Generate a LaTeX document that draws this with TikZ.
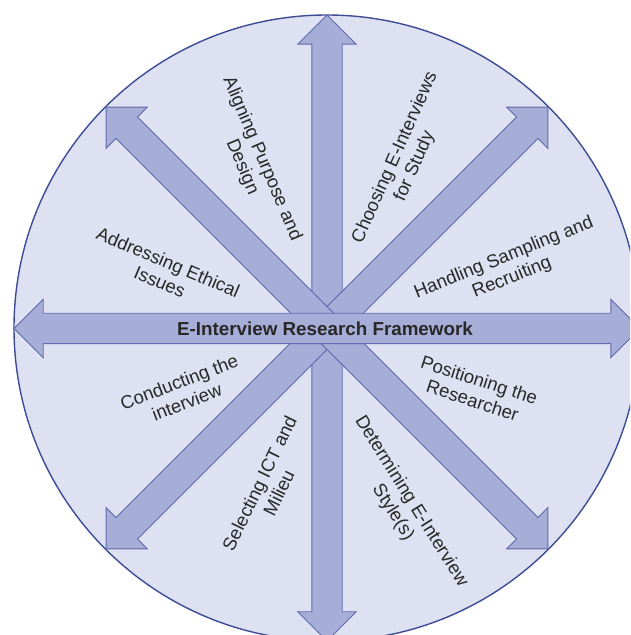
\documentclass[tikz,border=0pt]{standalone}
\usepackage{fontspec}
\setmainfont{Liberation Sans}
\usetikzlibrary{shapes.arrows}

\definecolor{discfill}{RGB}{222,225,241}
\definecolor{discline}{RGB}{62,76,150}
\definecolor{arrowfill}{RGB}{166,173,215}
\definecolor{arrowline}{RGB}{96,106,172}
\definecolor{labeltext}{RGB}{40,40,40}

\begin{document}
\begin{tikzpicture}[x=1pt,y=1pt,
  spoke/.style={single arrow,draw=arrowline,fill=arrowfill,line width=0.9pt,
    inner xsep=0pt,inner ysep=14.75pt,single arrow head extend=14pt,
    single arrow tip angle=90,anchor=tail,minimum height=312pt},
  axis/.style={double arrow,draw=arrowline,fill=arrowfill,line width=0.9pt,
    inner xsep=0pt,inner ysep=14.75pt,double arrow head extend=14pt,
    double arrow tip angle=90,minimum height=626pt},
  step label/.style={text=labeltext,align=center,inner sep=0pt,
    font=\fontsize{18.5}{21.5}\selectfont}]

  \useasboundingbox (0,0) rectangle (630,635);
  \clip (0,0) rectangle (630,635);

  % background disc
  \coordinate (c) at (327,307);
  \draw[discline,fill=discfill,line width=1.4pt] (c) circle (313);

  % arrows
  \node[axis,rotate=90] (vert) at (c) {};
  \node[spoke,rotate=45] (ne) at (c) {};
  \node[spoke,rotate=135] (nw) at (c) {};
  \node[spoke,rotate=225] (sw) at (c) {};
  \node[spoke,rotate=315] (se) at (c) {};
  \node[axis] (horiz) at (327,306.5) {};

  \node[text=labeltext,font=\bfseries\fontsize{18.8}{22}\selectfont] (title) at (325,306) {E-Interview Research Framework};

  % the eight steps
  \node[step label,rotate=-67] (purpose) at (252,472) {Aligning Purpose and\\Design};
  \node[step label,rotate=66] (choose) at (405,473) {Choosing E-Interviews\\for Study};
  \node[step label,rotate=-23] (ethics) at (164,363) {Addressing Ethical\\Issues};
  \node[step label,rotate=22] (sampling) at (508,367) {Handling Sampling and\\Recruiting};
  \node[step label,rotate=21] (conduct) at (183,243) {Conducting the\\interview};
  \node[step label,rotate=-18] (position) at (476,245) {Positioning the\\Researcher};
  \node[step label,rotate=64] (ict) at (269,147) {Selecting ICT and\\Milieu};
  \node[step label,rotate=-58] (style) at (402,128) {Determining E-Interview\\Style(s)};
\end{tikzpicture}
\end{document}
